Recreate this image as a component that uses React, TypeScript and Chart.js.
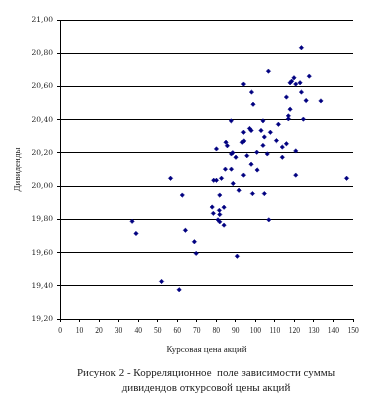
import React, { useEffect, useRef } from "react";
import { Chart, registerables } from "chart.js";

Chart.register(...registerables);

// Курсовая цена акций (X)
const sharePrice: number[] = [
  123.6, 106.7, 127.6, 119.8, 117.8, 118.6, 120.7, 122.9, 93.9, 98.0,
  123.6, 115.9, 126.0, 133.6, 98.8, 117.8, 116.9, 116.9, 124.6, 87.7,
  103.9, 111.8, 97.0, 97.8, 102.9, 107.7, 93.9, 104.6, 110.8, 85.0,
  93.3, 94.1, 103.9, 85.7, 115.9, 113.8, 80.1, 120.7, 100.7, 88.5,
  87.8, 106.1, 95.6, 90.1, 113.8, 97.8, 84.7, 87.8, 100.9, 93.9,
  120.7, 56.6, 82.7, 146.7, 78.7, 80.1, 88.7, 91.7, 98.5, 104.6,
  62.6, 81.8, 77.9, 84.0, 81.6, 78.5, 81.8, 80.9, 81.8, 106.9,
  36.9, 84.0, 38.9, 64.2, 68.8, 69.7, 90.8, 52.0, 61.0,
];

// Дивиденды (Y)
const dividends: number[] = [
  20.833, 20.692, 20.662, 20.652, 20.622, 20.632, 20.614, 20.622, 20.614, 20.566,
  20.566, 20.536, 20.515, 20.513, 20.493, 20.463, 20.423, 20.405, 20.403, 20.393,
  20.393, 20.372, 20.347, 20.335, 20.335, 20.324, 20.324, 20.296, 20.274, 20.264,
  20.264, 20.272, 20.245, 20.243, 20.255, 20.235, 20.224, 20.212, 20.204, 20.201,
  20.194, 20.194, 20.183, 20.174, 20.174, 20.132, 20.102, 20.102, 20.097, 20.066,
  20.066, 20.047, 20.047, 20.047, 20.035, 20.035, 20.016, 19.975, 19.955, 19.955,
  19.946, 19.946, 19.874, 19.873, 19.854, 19.836, 19.829, 19.797, 19.785, 19.797,
  19.788, 19.765, 19.715, 19.734, 19.665, 19.595, 19.578, 19.426, 19.376,
];

const xTitle = "Курсовая цена акций";
const yTitle = "Дивиденды";
const captionLines: string[] = [
  "Рисунок 2 - Корреляционное  поле зависимости суммы",
  "дивидендов откурсовой цены акций",
];

export default function App() {
  const canvasRef = useRef<HTMLCanvasElement | null>(null);

  useEffect(() => {
    if (!canvasRef.current) return;
    const points = sharePrice.map((x, i) => ({ x, y: dividends[i] }));
    const chart = new Chart(canvasRef.current, {
      type: "scatter",
      data: {
        datasets: [
          {
            data: points,
            pointStyle: "rectRot",
            pointRadius: 2.2,
            backgroundColor: "#000080",
            borderColor: "#000080",
            borderWidth: 0.5,
          },
        ],
      },
      options: {
        responsive: false,
        animation: false,
        layout: { padding: { left: 0, right: 14, top: 20, bottom: 53 } },
        plugins: {
          legend: { display: false },
          tooltip: { enabled: false },
        },
        scales: {
          x: {
            type: "linear",
            min: 0,
            max: 150,
            ticks: {
              stepSize: 10,
              padding: 5,
              color: "#222",
              font: { family: "'Liberation Serif', serif", size: 7.5 },
              maxRotation: 0,
              autoSkip: false,
            },
            grid: {
              drawOnChartArea: false,
              drawTicks: true,
              tickLength: 3,
              color: "#000",
            },
            border: { display: true, color: "#000", width: 1 },
            title: {
              display: true,
              text: xTitle,
              color: "#222",
              font: { family: "'Liberation Serif', serif", size: 9 },
              padding: { top: 0, bottom: 0 },
            },
            afterFit: (scale: any) => {
              scale.height = 36;
            },
          },
          y: {
            type: "linear",
            min: 19.2,
            max: 21.0,
            ticks: {
              stepSize: 0.2,
              padding: 4,
              color: "#222",
              font: { family: "'DejaVu Serif', serif", size: 7.5 },
              callback: (v: any) => Number(v).toFixed(2).replace(".", ","),
            },
            grid: {
              color: "#000",
              lineWidth: 1,
              drawTicks: true,
              tickLength: 3,
            },
            border: { display: true, color: "#000", width: 1 },
            title: {
              display: true,
              text: yTitle,
              color: "#222",
              font: { family: "'Liberation Serif', serif", size: 9 },
              padding: { top: 12, bottom: 0 },
            },
            afterFit: (scale: any) => {
              scale.width = 60;
            },
          },
        },
      },
    });
    return () => chart.destroy();
  }, []);

  return (
    <div style={{ position: "absolute", left: 0, top: 0, width: 367, height: 408, background: "#fff", overflow: "hidden" }}>
      <canvas ref={canvasRef} width={367} height={408} style={{ display: "block", width: 367, height: 408 }} />
      <div
        style={{
          position: "absolute",
          left: 45,
          top: 365,
          width: 322,
          textAlign: "center",
          fontFamily: "'Liberation Serif', serif",
          fontSize: 11,
          lineHeight: "15px",
          color: "#222",
          whiteSpace: "pre",
        }}
      >
        {captionLines.map((l, i) => (
          <div key={i}>{l}</div>
        ))}
      </div>
    </div>
  );
}
